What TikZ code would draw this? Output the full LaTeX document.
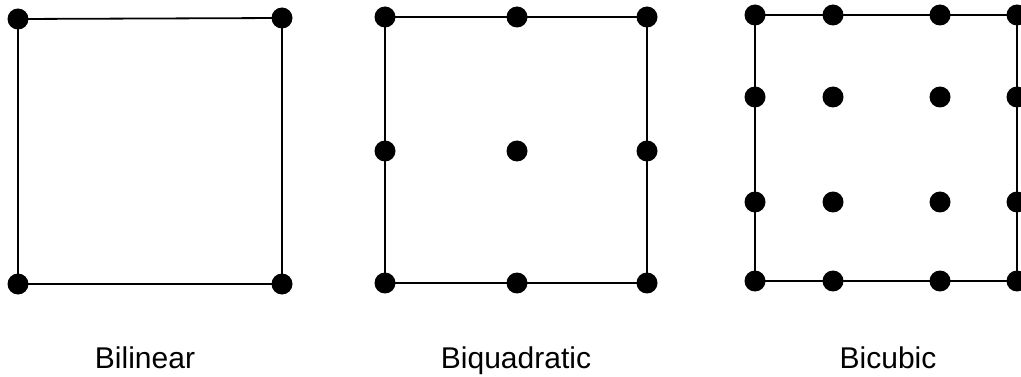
\documentclass[tikz,border=0pt]{standalone}
\usepackage{fontspec}
\setmainfont{Liberation Sans}
\begin{document}
\begin{tikzpicture}[x=1pt, y=-1pt,
    dot/.style={circle, fill=black, inner sep=0pt, minimum size=21pt},
    edge/.style={line width=1.8pt, black},
    lbl/.style={anchor=base, font=\fontsize{30}{36}\selectfont}]
    \useasboundingbox (0,0) rectangle (1021,377);

    % Bilinear: four corner nodes.
    \node[dot] (l11) at (18,19) {};
    \node[dot] (l12) at (282,18) {};
    \node[dot] (l21) at (18,284) {};
    \node[dot] (l22) at (282,284) {};
    \draw[edge] (l11.center) -- (l12.center) -- (l22.center) -- (l21.center) -- cycle;

    % Biquadratic: 3 x 3 nodes.
    \foreach \c/\x in {1/385, 2/517, 3/647}
      \foreach \r/\y in {1/17, 2/151, 3/283}
        \node[dot] (q\r\c) at (\x,\y) {};
    \draw[edge] (q11.center) -- (q13.center) -- (q33.center) -- (q31.center) -- cycle;

    % Bicubic: 4 x 4 nodes, right column cut by the page.
    \foreach \c/\x in {1/755, 2/833, 3/940, 4/1017}
      \foreach \r/\y in {1/15, 2/97, 3/202, 4/281}
        \node[dot] (c\r\c) at (\x,\y) {};
    \draw[edge] (c11.center) -- (c14.center) -- (c44.center) -- (c41.center) -- cycle;

    % Labels.
    \node[lbl] (bilinear) at (145,368) {Bilinear};
    \node[lbl] (biquadratic) at (516,368) {Biquadratic};
    \node[lbl] (bicubic) at (888,368) {Bicubic};
\end{tikzpicture}
\end{document}
